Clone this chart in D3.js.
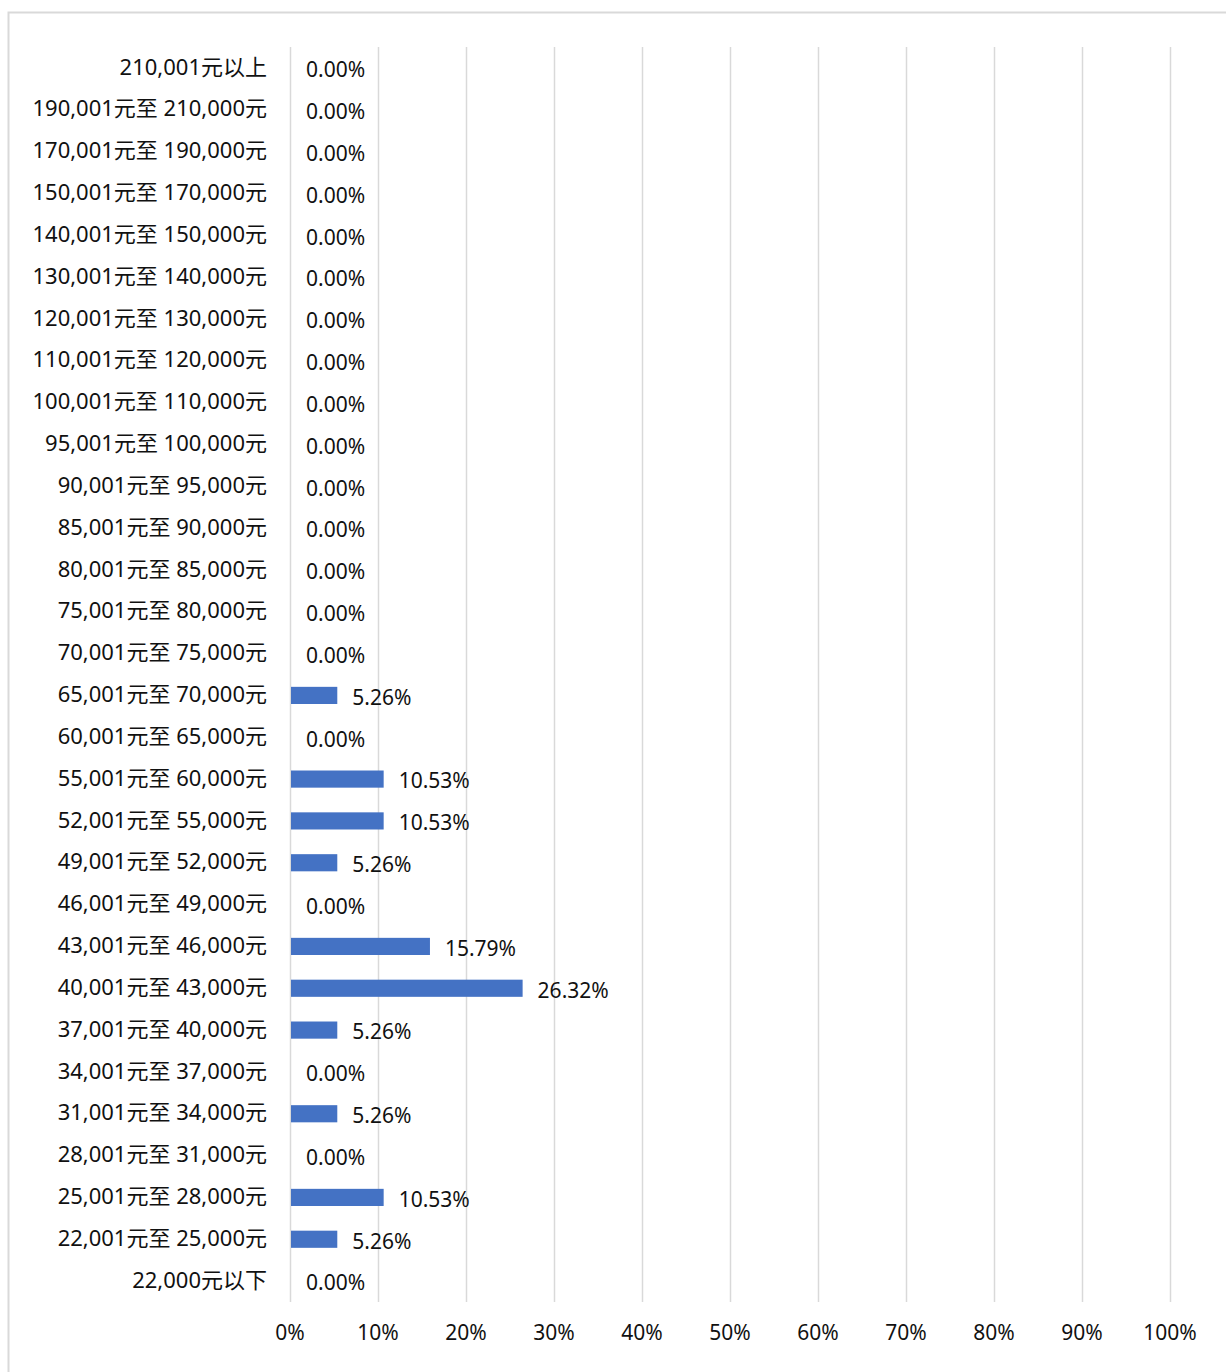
<!DOCTYPE html>
<html>
<head>
<meta charset="utf-8">
<script src="https://cdn.jsdelivr.net/npm/d3@7"></script>
<style>
  html, body { margin: 0; padding: 0; background: #fff; }
  svg text { font-family: "Noto Sans", "Noto Sans CJK SC", sans-serif; }
</style>
</head>
<body>
<div id="chart"></div>
<script>
// categories, top to bottom
const categories = [
  "210,001元以上",
  "190,001元至 210,000元",
  "170,001元至 190,000元",
  "150,001元至 170,000元",
  "140,001元至 150,000元",
  "130,001元至 140,000元",
  "120,001元至 130,000元",
  "110,001元至 120,000元",
  "100,001元至 110,000元",
  "95,001元至 100,000元",
  "90,001元至 95,000元",
  "85,001元至 90,000元",
  "80,001元至 85,000元",
  "75,001元至 80,000元",
  "70,001元至 75,000元",
  "65,001元至 70,000元",
  "60,001元至 65,000元",
  "55,001元至 60,000元",
  "52,001元至 55,000元",
  "49,001元至 52,000元",
  "46,001元至 49,000元",
  "43,001元至 46,000元",
  "40,001元至 43,000元",
  "37,001元至 40,000元",
  "34,001元至 37,000元",
  "31,001元至 34,000元",
  "28,001元至 31,000元",
  "25,001元至 28,000元",
  "22,001元至 25,000元",
  "22,000元以下"
];

// percentages, same order
const values = [
  0, 0, 0, 0, 0, 0, 0, 0, 0, 0,
  0, 0, 0, 0, 0, 5.26, 0, 10.53, 10.53, 5.26,
  0, 15.79, 26.32, 5.26, 0, 5.26, 0, 10.53, 5.26, 0
];

const xTicks = [0, 10, 20, 30, 40, 50, 60, 70, 80, 90, 100];

const data = categories.map((c, i) => ({ cat: c, value: values[i] }));

const width = 1226, height = 1372;
const margin = { top: 47, right: 56, bottom: 70, left: 290 };

const svg = d3.select("#chart").append("svg")
  .attr("width", width)
  .attr("height", height);

// chart border
svg.append("rect")
  .attr("x", 8.5).attr("y", 12.5)
  .attr("width", 1400).attr("height", 1500)
  .attr("fill", "none")
  .attr("stroke", "#d9d9d9")
  .attr("stroke-width", 2);

const x = d3.scaleLinear()
  .domain([0, 100])
  .range([margin.left, width - margin.right]);

const y = d3.scaleBand()
  .domain(categories)
  .range([margin.top, height - margin.bottom])
  .padding(0);

const barH = y.bandwidth() * 0.41;

// gridlines
svg.append("g")
  .selectAll("line")
  .data(xTicks)
  .join("line")
  .attr("x1", d => x(d) + 0.5).attr("x2", d => x(d) + 0.5)
  .attr("y1", margin.top).attr("y2", height - margin.bottom)
  .attr("stroke", "#d9d9d9")
  .attr("stroke-width", 1.5);

// x tick labels
svg.append("g")
  .selectAll("text")
  .data(xTicks)
  .join("text")
  .attr("x", d => x(d))
  .attr("y", 1333)
  .attr("dy", "0.35em")
  .attr("text-anchor", "middle")
  .attr("font-size", "21px")
  .attr("fill", "#111")
  .text(d => d + "%");

// category labels
svg.append("g")
  .selectAll("text")
  .data(data)
  .join("text")
  .attr("x", margin.left - 23)
  .attr("y", d => y(d.cat) + y.bandwidth() / 2)
  .attr("dy", "0.3em")
  .attr("text-anchor", "end")
  .attr("font-size", "22px")
  .attr("fill", "#111")
  .text(d => d.cat);

// bars
svg.append("g")
  .selectAll("rect")
  .data(data.filter(d => d.value > 0))
  .join("rect")
  .attr("x", x(0) + 1)
  .attr("y", d => y(d.cat) + (y.bandwidth() - barH) / 2)
  .attr("width", d => x(d.value) - x(0))
  .attr("height", barH)
  .attr("fill", "#4472c4");

// value labels
svg.append("g")
  .selectAll("text")
  .data(data)
  .join("text")
  .attr("x", d => x(d.value) + 16)
  .attr("y", d => y(d.cat) + y.bandwidth() / 2 + 2)
  .attr("dy", "0.35em")
  .attr("font-size", "21px")
  .attr("fill", "#111")
  .text(d => d.value.toFixed(2) + "%");
</script>
</body>
</html>
